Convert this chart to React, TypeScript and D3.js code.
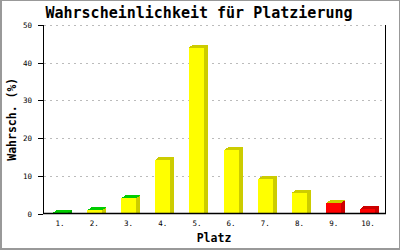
import React from "react";
import * as d3 from "d3";

const categories = ["1.", "2.", "3.", "4.", "5.", "6.", "7.", "8.", "9.", "10."];
const values = [0.2, 0.8, 4.0, 14.2, 44.0, 16.8, 9.1, 5.5, 2.7, 1.2];
const yTicks = [0, 10, 20, 30, 40, 50];

const title = "Wahrscheinlichkeit für Platzierung";
const xTitle = "Platz";
const yTitle = "Wahrsch. (%)";

// style keys per bar: front, top, side
const frontKeys = ["g", "y", "y", "y", "y", "y", "y", "y", "r", "r"];
const topKeys = ["g", "g", "g", "dy", "dy", "dy", "dy", "dy", "dy", "dr"];
const sideKeys = ["dg", "dy", "dy", "dy", "dy", "dy", "dy", "dy", "dr", "dr"];
const palette: Record<string, string> = {
  g: "#00cc00",
  dg: "#00aa00",
  y: "#ffff00",
  dy: "#cccc00",
  r: "#ff0000",
  dr: "#cc0000",
};

export default function App() {
  const W = 400, H = 250;
  const left = 43, right = 385, top = 25, bottom = 213.5;
  const x = d3.scaleBand<string>().domain(categories).range([left, right]);
  const y = d3.scaleLinear().domain([0, 50]).range([bottom, top]);
  const bw = 15;
  const dx = 4, dy = 3;
  const mono = "'DejaVu Sans Mono', monospace";

  return (
    <svg width={W} height={H} style={{ position: "absolute", left: 0, top: 0, background: "#fff" }}>
      <rect x={0} y={0} width={W} height={H} fill="#fff" />
      <rect x={1} y={0.5} width={W - 1.5} height={H - 2} fill="none" stroke="#999" strokeWidth={1} />
      <line x1={1} x2={1} y1={0} y2={H} stroke="#999" strokeWidth={2} />
      <line x1={0} x2={W} y1={H - 1} y2={H - 1} stroke="#999" strokeWidth={2} />

      <text x={199} y={18} textAnchor="middle" fontFamily={mono} fontWeight="bold" fontSize={15}>
        {title}
      </text>

      {yTicks.filter((t) => t > 0).map((t) => (
        <line key={"g" + t} x1={left + 1} x2={right} y1={Math.round(y(t)) + 0.5} y2={Math.round(y(t)) + 0.5}
          stroke="#bbbbbb" strokeDasharray="2,4" strokeWidth={1} />
      ))}

      {values.map((v, i) => {
        const cx = x(categories[i])! + x.bandwidth() / 2;
        const x0 = Math.round(cx - bw / 2);
        const x1 = x0 + bw;
        const yt = y(v);
        const y0 = y(0);
        const shape = { shapeRendering: "crispEdges" as const };
        return (
          <g key={i}>
            <polygon
              points={`${x1},${yt} ${x1 + dx},${yt - dy} ${x1 + dx},${y0} ${x1},${y0}`}
              fill={palette[sideKeys[i]]} style={shape} />
            <polygon
              points={`${x0},${yt} ${x0 + dx},${yt - dy} ${x1 + dx},${yt - dy} ${x1},${yt}`}
              fill={palette[topKeys[i]]} style={shape} />
            <rect x={x0} y={yt} width={bw} height={Math.max(0, y0 - yt)} fill={palette[frontKeys[i]]} style={shape} />
          </g>
        );
      })}

      <line x1={left + 0.5} x2={left + 0.5} y1={top} y2={bottom} stroke="#000" />
      <line x1={right + 0.5} x2={right + 0.5} y1={top} y2={bottom} stroke="#000" />
      <line x1={left} x2={right + 1} y1={bottom} y2={bottom} stroke="#000" strokeWidth={1.5} />

      {yTicks.map((t) => (
        <g key={"t" + t}>
          <line x1={left - 5} x2={left} y1={Math.round(y(t)) + 0.5} y2={Math.round(y(t)) + 0.5} stroke="#000" />
          <text x={32} y={y(t) + 3} textAnchor="end" fontFamily={mono} fontSize={7.5}>{t}</text>
        </g>
      ))}

      {categories.map((c) => (
        <text key={c} x={x(c)! + x.bandwidth() / 2} y={226} textAnchor="middle" fontFamily={mono} fontSize={7.5}>
          {c}
        </text>
      ))}

      <text x={(left + right) / 2} y={242} textAnchor="middle" fontFamily={mono} fontWeight="bold" fontSize={11.5}>
        {xTitle}
      </text>
      <text transform={`translate(16, ${(top + bottom) / 2}) rotate(-90)`} textAnchor="middle"
        fontFamily={mono} fontWeight="bold" fontSize={11.5}>
        {yTitle}
      </text>
    </svg>
  );
}
